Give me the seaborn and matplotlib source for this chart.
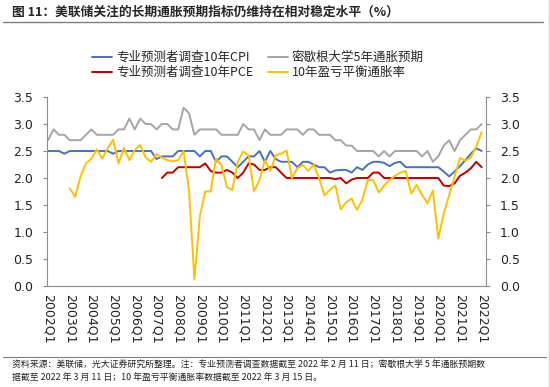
import numpy as np
import pandas as pd
import matplotlib
matplotlib.use("Agg")
import matplotlib.pyplot as plt
from matplotlib.lines import Line2D
import seaborn as sns

nan = np.nan

# quarters 2002Q1 .. 2022Q1
quarters = [f"{y}Q{q}" for y in range(2002, 2023) for q in range(1, 5)][:81]

spf_cpi = [2.5, 2.5, 2.5, 2.45, 2.5, 2.5, 2.5, 2.5, 2.5, 2.5,
           2.5, 2.5, 2.45, 2.5, 2.5, 2.5, 2.5, 2.5, 2.5, 2.5,
           2.35, 2.4, 2.4, 2.4, 2.5, 2.5, 2.5, 2.5, 2.4, 2.5,
           2.5, 2.3, 2.4, 2.4, 2.3, 2.2, 2.3, 2.4, 2.4, 2.5,
           2.3, 2.5, 2.35, 2.3, 2.3, 2.3, 2.2, 2.3, 2.3, 2.25,
           2.2, 2.2, 2.1, 2.14, 2.15, 2.15, 2.1, 2.2, 2.15, 2.25,
           2.3, 2.3, 2.28, 2.22, 2.28, 2.3, 2.2, 2.2, 2.2, 2.2,
           2.2, 2.2, 2.2, 2.12, 2.03, 2.12, 2.22, 2.33, 2.45, 2.55,
           2.5]

spf_pce = [nan] * 21 + [
           2.0, 2.1, 2.1, 2.2, 2.2, 2.2, 2.2, 2.2, 2.27,
           2.13, 2.1, 2.1, 2.15, 2.1, 2.0, 2.1, 2.27, 2.25, 2.15,
           2.15, 2.2, 2.2, 2.1, 2.0, 2.0, 2.0, 2.0, 2.0, 2.0,
           2.0, 2.0, 2.0, 1.98, 2.0, 1.9, 1.97, 2.0, 2.0, 2.0,
           2.1, 2.1, 2.0, 2.0, 2.0, 2.0, 2.0, 2.0, 2.0, 2.0,
           2.0, 2.0, 2.0, 1.86, 1.85, 1.9, 2.04, 2.1, 2.18, 2.3,
           2.2]

michigan = [2.7, 2.9, 2.8, 2.8, 2.7, 2.7, 2.7, 2.8, 2.9, 2.8,
            2.8, 2.8, 2.8, 2.9, 2.9, 3.1, 2.9, 3.1, 3.0, 3.0,
            2.9, 3.0, 3.0, 2.9, 2.9, 3.3, 3.2, 2.8, 2.9, 2.9,
            2.9, 2.9, 2.8, 2.8, 2.8, 2.8, 3.0, 2.9, 2.9, 2.7,
            2.9, 2.8, 2.8, 2.8, 2.9, 2.9, 2.9, 2.8, 2.9, 2.9,
            2.8, 2.8, 2.8, 2.7, 2.7, 2.6, 2.6, 2.5, 2.5, 2.5,
            2.5, 2.4, 2.5, 2.4, 2.5, 2.5, 2.5, 2.5, 2.5, 2.4,
            2.5, 2.3, 2.4, 2.6, 2.7, 2.5, 2.7, 2.8, 2.9, 2.9,
            3.0]

breakeven = [nan] * 4 + [
             1.81, 1.65, 2.03, 2.27, 2.36, 2.53,
             2.36, 2.55, 2.71, 2.27, 2.56, 2.33, 2.52, 2.61, 2.38, 2.3,
             2.44, 2.38, 2.33, 2.31, 2.33, 2.5, 1.78, 0.12, 1.29, 1.75,
             1.75, 2.36, 2.24, 1.83, 1.78, 2.3, 2.49, 2.42, 1.75, 1.96,
             2.33, 2.13, 2.42, 2.45, 2.51, 2.0, 2.18, 2.24, 2.13, 2.25,
             2.0, 1.68, 1.78, 1.86, 1.42, 1.55, 1.62, 1.41, 1.6, 1.96,
             1.96, 1.73, 1.86, 1.96, 2.04, 2.1, 2.13, 1.71, 1.87, 1.69,
             1.53, 1.77, 0.88, 1.34, 1.68, 2.02, 2.37, 2.32, 2.38, 2.58,
             2.85]

names = ["专业预测者调查10年CPI", "专业预测者调查10年PCE",
         "密歇根大学5年通胀预期", "10年盈亏平衡通胀率"]
colors = ["#4472C4", "#C00000", "#A5A5A5", "#FFC000"]

frames = []
for name, vals in zip(names, [spf_cpi, spf_pce, michigan, breakeven]):
    frames.append(pd.DataFrame({"idx": np.arange(len(vals)), "value": vals, "series": name}))
data = pd.concat(frames, ignore_index=True)

sns.set_style("white")
plt.rcParams["font.family"] = ["DejaVu Sans", "Noto Sans CJK SC"]
cjk = ["Noto Sans CJK SC", "DejaVu Sans"]

fig = plt.figure(figsize=(5.5, 3.87), dpi=100)
ax = fig.add_axes([47 / 550, 1 - 286 / 387, 439 / 550, 189 / 387])

sns.lineplot(data=data, x="idx", y="value", hue="series", hue_order=names,
             palette=colors, linewidth=1.4, ax=ax)

ax.set_xlim(-0.2, 80.8)
ax.set_ylim(0, 3.5)
ax.set_yticks(np.arange(0, 3.51, 0.5))
ax.set_yticklabels([f"{v:.1f}" for v in np.arange(0, 3.51, 0.5)])
ax.set_xticks(range(0, 81, 4))
ax.set_xticklabels(quarters[::4], rotation=270)
ax.set_xlabel("")
ax.set_ylabel("")

for side in ["left", "right", "bottom"]:
    ax.spines[side].set_color("#8c8c8c")
    ax.spines[side].set_linewidth(0.8)
ax.spines["top"].set_visible(False)

ax.tick_params(axis="y", which="both", left=True, right=True, labelright=True,
               direction="out", length=3, color="#8c8c8c", labelsize=9,
               labelcolor="#222222", pad=7)
ax.tick_params(axis="x", direction="in", length=3, color="#8c8c8c",
               labelsize=9, labelcolor="#222222", pad=6)

handles, labels = ax.get_legend_handles_labels()
ax.get_legend().remove()
fig.legend(handles, labels, loc="center", bbox_to_anchor=(258 / 550, 1 - 65 / 387),
           ncol=2, frameon=False, handlelength=1.6, handletextpad=0.3,
           columnspacing=1.2, labelspacing=0.15, prop={"family": cjk, "size": 9})

fig.text(12 / 550, 1 - 12 / 387, "图 11：美联储关注的长期通胀预期指标仍维持在相对稳定水平（%）",
         family=cjk, fontsize=9.2, fontweight="bold", va="center", ha="left")
fig.add_artist(Line2D([3 / 550, 543 / 550], [1 - 22 / 387] * 2, color="#7f7f7f", lw=1))
fig.add_artist(Line2D([3 / 550, 546 / 550], [1 - 357 / 387] * 2, color="#7f7f7f", lw=0.8))
fig.add_artist(Line2D([549 / 550] * 2, [0, 1], color="#d0d0d0", lw=1))

fig.text(12 / 550, 1 - 365 / 387,
         "资料来源：美联储，光大证券研究所整理。注：专业预测者调查数据截至 2022 年 2 月 11 日；密歇根大学 5 年通胀预期数",
         family=cjk, fontsize=6.4, va="center", ha="left", color="#222222")
fig.text(12 / 550, 1 - 378 / 387,
         "据截至 2022 年 3 月 11 日；10 年盈亏平衡通胀率数据截至 2022 年 3 月 15 日。",
         family=cjk, fontsize=6.4, va="center", ha="left", color="#222222")

fig.savefig("out.png", dpi=100)
plt.close(fig)
